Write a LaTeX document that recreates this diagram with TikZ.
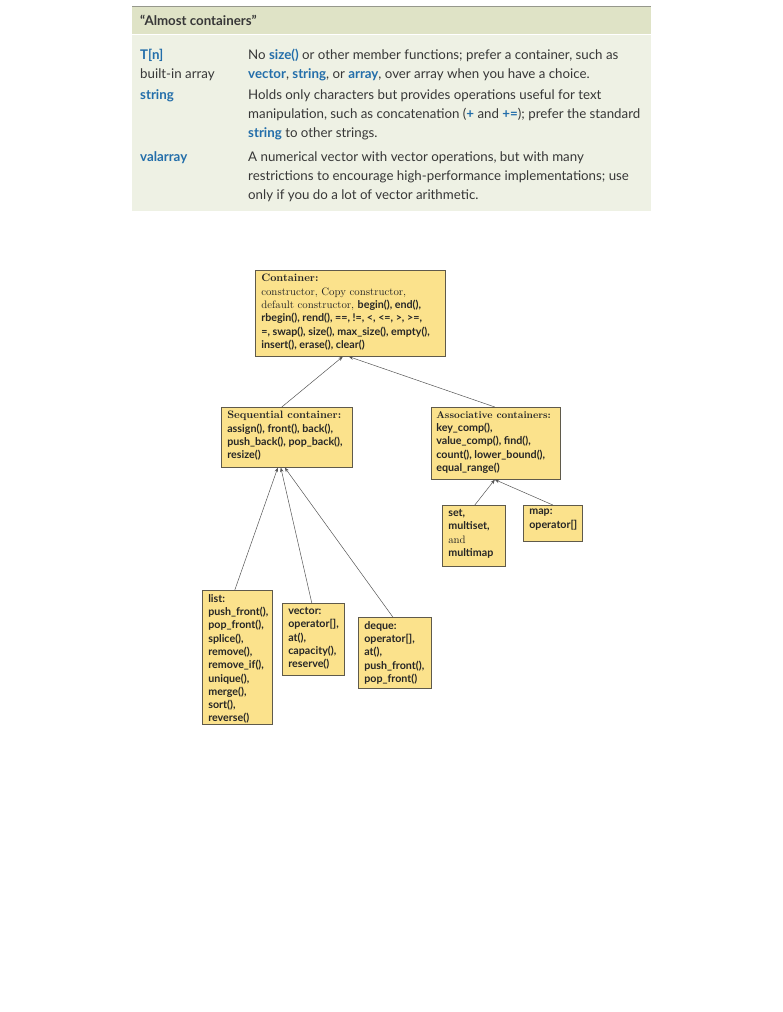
\documentclass[tikz,border=0pt]{standalone}
\usepackage{fontspec}
\newfontfamily\opt{Lato}
\usetikzlibrary{arrows.meta,positioning}

\definecolor{headfill}{RGB}{223,227,198}
\definecolor{bodyfill}{RGB}{238,241,228}
\definecolor{rulegray}{RGB}{150,152,140}
\definecolor{keyblue}{RGB}{35,110,170}
\definecolor{tabtext}{RGB}{55,55,55}
\definecolor{boxfill}{RGB}{251,226,140}
\definecolor{boxline}{RGB}{95,90,75}
\definecolor{arrowgray}{RGB}{85,85,85}

\newcommand{\kw}[1]{{\bfseries\color{keyblue}#1}}
\newcommand{\fn}[1]{{\opt\fontsize{10.7}{13.3}\selectfont\bfseries #1}}

\tikzset{
  tabcell/.style={anchor=base west, inner sep=0pt, align=left,
    font=\opt\fontsize{13.3}{19}\selectfont, text=tabtext},
  cbox/.style 2 args={draw=boxline, fill=boxfill, anchor=north west,
    inner xsep=6pt, inner ysep=4pt, line width=0.6pt,
    font=\fontsize{10.8}{13.3}\selectfont, text=black!85,
    execute at begin node={\begin{minipage}[t][#2][t]{#1}\raggedright},
    execute at end node={\end{minipage}}},
  isa/.style={draw=arrowgray, line width=0.5pt, -{Stealth[length=4.5pt,width=3.5pt]}}
}

\begin{document}
\begin{tikzpicture}[x=1pt,y=-1pt]
  \useasboundingbox (0,0) rectangle (782,1012);

  % table of almost containers
  \fill[bodyfill] (132,35) rectangle (651,211);
  \fill[headfill] (132,7) rectangle (651,34);
  \draw[rulegray, line width=1.2pt] (132,6.5) -- (651,6.5);

  \node[tabcell, font=\opt\bfseries\fontsize{13.3}{19}\selectfont] (hdr) at (140,25) {“Almost containers”};

  \node[tabcell] (tn) at (140,78.5) {\kw{T[n]}\\built-in array};
  \node[tabcell] (tndesc) at (248,78.5) {No \kw{size()} or other member functions; prefer a container, such as\\
    \kw{vector}, \kw{string}, or \kw{array}, over array when you have a choice.};
  \node[tabcell] (str) at (140,99.5) {\kw{string}};
  \node[tabcell] (strdesc) at (248,137.5) {Holds only characters but provides operations useful for text\\
    manipulation, such as concatenation (\kw{+} and \kw{+=}); prefer the standard\\
    \kw{string} to other strings.};
  \node[tabcell] (val) at (140,161.5) {\kw{valarray}};
  \node[tabcell] (valdesc) at (248,199.5) {A numerical vector with vector operations, but with many\\
    restrictions to encourage high-performance implementations; use\\
    only if you do a lot of vector arithmetic.};

  % container hierarchy
  \node[cbox={178pt}{78pt}] (cont) at (255,270) {\textbf{Container:}\\
    constructor, Copy constructor,\\
    default constructor, \fn{begin(), end(),}\\
    \fn{rbegin(), rend(), ==, !=, <, <=, >, >=,}\\
    \fn{=, swap(), size(), max\_size(), empty(),}\\
    \fn{insert(), erase(), clear()}};

  \node[cbox={119pt}{52pt}] (seq) at (221,407) {\textbf{Sequential container:}\\
    \fn{assign(), front(), back(),}\\
    \fn{push\_back(), pop\_back(),}\\
    \fn{resize()}};
  \node[cbox={119pt}{64pt}, inner xsep=5pt] (assoc) at (431,407) {\mbox{\fontsize{10}{13.3}\selectfont\textbf{Associative containers:}}\\
    \fn{key\_comp(),}\\
    \fn{value\_comp(), find(),}\\
    \fn{count(), lower\_bound(),}\\
    \fn{equal\_range()}};

  \node[cbox={51pt}{53pt}] (setb) at (442,505) {\fn{set,}\\ \fn{multiset,}\\ and\\ \fn{multimap}};
  \node[cbox={47pt}{28pt}] (mapb) at (523,505) {\fn{map:}\\ \fn{operator[]}};

  \node[cbox={58pt}{126pt}] (listb) at (202,590) {\fn{list:}\\ \fn{push\_front(),}\\ \fn{pop\_front(),}\\
    \fn{splice(),}\\ \fn{remove(),}\\ \fn{remove\_if(),}\\ \fn{unique(),}\\ \fn{merge(),}\\
    \fn{sort(),}\\ \fn{reverse()}};
  \node[cbox={50pt}{64pt}] (vecb) at (282,603) {\fn{vector:}\\ \fn{operator[],}\\ \fn{at(),}\\
    \fn{capacity(),}\\ \fn{reserve()}};
  \node[cbox={61pt}{63pt}] (deqb) at (358,617) {\fn{deque:}\\ \fn{operator[],}\\ \fn{at(),}\\
    \fn{push\_front(),}\\ \fn{pop\_front()}};

  \draw[isa] ([xshift=-5pt]seq.north) -- ([xshift=-7.5pt]cont.south);
  \draw[isa] ([xshift=-1pt]assoc.north) -- ([xshift=-1.5pt]cont.south);
  \draw[isa] ([xshift=-2.5pt]listb.north) -- ([xshift=-9pt]seq.south);
  \draw[isa] ([xshift=-1.5pt]vecb.north) -- ([xshift=-6pt]seq.south);
  \draw[isa] ([xshift=-2pt]deqb.north) -- ([xshift=-2pt]seq.south);
  \draw[isa] ([xshift=1pt]setb.north) -- ([xshift=-1pt]assoc.south);
  \draw[isa] (mapb.north) -- ([xshift=-1pt]assoc.south);
\end{tikzpicture}
\end{document}
